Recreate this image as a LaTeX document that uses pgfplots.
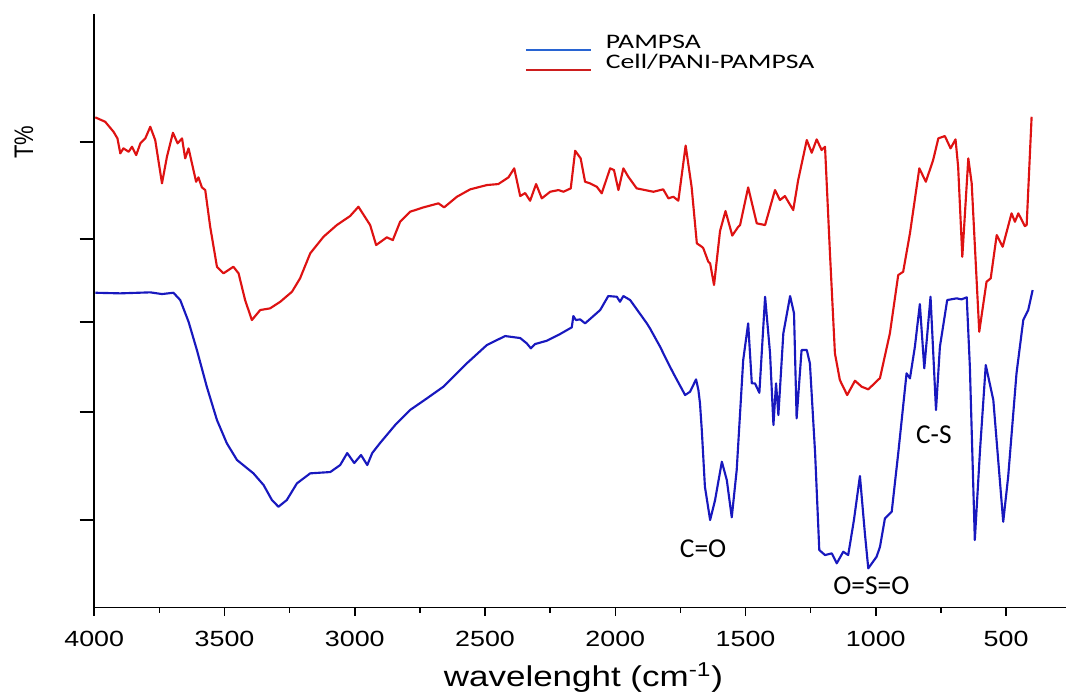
\documentclass[border=0pt]{standalone}
\usepackage{fontspec}
\setmainfont{Liberation Sans}
\newfontfamily\calib{Carlito}
\usepackage{graphicx}
\usepackage{pgfplots}
\pgfplotsset{compat=1.18}
\definecolor{cred}{RGB}{222,18,18}
\definecolor{cblue}{RGB}{24,24,190}
\definecolor{lblue}{RGB}{40,100,210}
\definecolor{lred}{RGB}{205,30,30}
\newcommand{\sx}[1]{\scalebox{1.22}[1]{#1}}
\pgfplotstableread{
wn y
3996 575.7
3958 571.3
3926 561.3
3911 554.7
3900 539.7
3888 544.7
3868 541.3
3855 546.3
3839 538
3823 549.7
3804 554.7
3785 566.3
3766 553
3740 509.7
3721 536.3
3698 560.3
3680 549.7
3663 554.7
3651 534.7
3638 544.7
3625 529.7
3609 511.3
3600 515.7
3587 505.7
3574 503
3555 466.3
3529 426.3
3504 419.7
3466 426.3
3446 419.7
3421 393
3395 373
3363 383
3325 384.7
3286 391.3
3241 401.3
3210 414.7
3171 439.7
3120 456.3
3069 468
3018 477
2986 486.3
2941 468
2918 448
2877 455.7
2854 453
2826 471.3
2788 481.3
2736 485.7
2679 489.7
2657 485.7
2608 496.3
2557 503.7
2493 508
2449 509
2410 515.7
2388 524.7
2365 497
2346 500
2327 492.3
2304 509
2282 494.7
2250 501.3
2218 503
2199 501.3
2171 504.7
2154 542.3
2133 534.7
2116 511.3
2097 509.7
2071 506.3
2052 499.7
2020 524.7
2005 523
1988 503
1969 524.7
1950 516.3
1918 504.7
1886 503
1854 501.3
1816 503.7
1796 494.7
1777 496.3
1758 492.3
1730 547.5
1707 506
1687 449.7
1668 446.3
1662 444.7
1643 431.3
1636 429.7
1621 408
1598 462
1577 482
1551 457.5
1528 466.3
1521 468
1490 505.7
1457 469.7
1425 468
1387 503
1368 493
1349 497
1317 483
1298 513
1265 553
1246 540.3
1227 553.7
1208 543
1195 546.3
1176 439.7
1157 339.7
1138 313
1110 298
1080 312.3
1054 306.3
1029 303.7
984 315
946 359.7
914 418
895 421.3
869 459.7
833 524.7
808 511.3
780 533
760 554.7
735 557
713 544.7
694 553.7
684 526.3
668 436.3
645 534.7
632 509.7
603 361.3
575 411.3
559 414.7
536 458
513 446.3
479 479.7
466 471.3
453 479.7
428 467
421 468
409 536.3
402 576.3
}\redtab
\pgfplotstableread{
wn y
3996 400.3
3900 399.7
3785 400.7
3740 399
3696 400.3
3670 393
3638 371.3
3606 343
3568 306.3
3529 273
3491 249.7
3452 233
3389 219.7
3350 208
3318 193
3293 186.3
3261 193
3222 209.7
3171 219.7
3094 221
3056 228
3029 240
3002 230
2976 238
2952 228
2933 240
2903 250
2845 268
2788 283
2723 294.7
2660 306.3
2570 329.7
2493 348
2423 357
2365 355
2340 349.7
2324 344.7
2308 349
2263 352.3
2212 359
2167 365.7
2161 377
2151 373
2135 373.7
2116 369.7
2058 383
2027 397
1994 396.3
1982 391.3
1969 397
1943 393
1879 369.7
1867 364.7
1828 346.3
1803 333
1777 319.7
1732 298
1713 301.3
1690 313.7
1681 303
1675 290
1668 263
1656 206.3
1636 173
1617 193
1591 231.3
1572 213
1553 175.7
1534 223
1509 333
1490 369.7
1476 309.7
1464 309.7
1447 300.3
1425 396.3
1406 339.7
1393 268
1383 309.7
1374 278
1355 359.7
1329 397
1314 379.7
1304 274.7
1285 343
1265 343
1253 329.7
1233 239.7
1217 143
1195 138
1169 139.7
1150 129.7
1125 141.3
1106 138
1084 173
1061 217
1042 159.7
1029 124.7
997 136.3
984 146.3
965 174.7
939 181.3
914 239.7
882 319.7
869 314.7
850 346.3
831 389
814 324.7
790 396.3
769 283
754 346.3
726 393
690 394.7
671 393.7
651 395.7
639 326.3
620 153
600 243
578 328
549 293
511 171.3
492 216.3
460 319.7
434 373
415 383
398 403
}\bluetab
\begin{document}
\begin{tikzpicture}
\useasboundingbox (0,0) rectangle (799.5pt,519.75pt);
% y ticks (longer) in a helper axis
\begin{axis}[
 at={(70.7pt,64.1pt)}, anchor=south west,
 scale only axis, width=728.8pt, height=445.1pt,
 x dir=reverse, xmin=270, xmax=4000, ymin=85.5, ymax=679,
 axis x line=none, axis y line*=left,
 axis line style={line width=1.2pt, -},
 tick align=outside, major tick length=11pt,
 tick style={line width=1.2pt, black},
 xtick=\empty,
 ytick={173,281,371,454,551}, yticklabels={},
]
\end{axis}
\begin{axis}[
 at={(70.7pt,64.1pt)}, anchor=south west,
 scale only axis, width=728.8pt, height=445.1pt,
 x dir=reverse, xmin=270, xmax=4000, ymin=85.5, ymax=679,
 axis x line*=bottom, axis y line*=left,
 axis line style={line width=1.2pt, -},
 tick align=outside, major tick length=6pt, minor tick length=3.75pt,
 tick style={line width=1.2pt, black},
 ytick=\empty,
 xtick={500,1000,1500,2000,2500,3000,3500,4000},
 xticklabels={\sx{500},\sx{1000},\sx{1500},\sx{2000},\sx{2500},\sx{3000},\sx{3500},\sx{4000}},
 minor xtick={750,1250,1750,2250,2750,3250,3750},
 xticklabel style={font=\fontsize{16.5}{18}\selectfont, anchor=base, inner sep=0pt, yshift=-23.4pt},
 xlabel={\sx{wavelenght (cm\textsuperscript{-1})}},
 xlabel style={font=\fontsize{21.5}{24}\selectfont, at={(axis description cs:0.5,0)}, anchor=base, inner sep=0pt, yshift=-59.4pt, xshift=2.5pt},
 clip=false,
 legend image code/.code={\draw[#1] (0pt,-4.6pt) -- (48.75pt,-4.6pt);},
 legend style={at={(0.4432,0.9663)}, anchor=north west, draw=none, fill=none, inner sep=0pt, outer sep=0pt, row sep=0pt,
   nodes={inner sep=0pt, text height=11pt, text depth=4pt, font=\calib\fontsize{15.5}{18}\selectfont},
   /tikz/every odd column/.append style={column sep=10.5pt}},
 legend cell align=left,
]
\addplot[cred, line width=1.6pt, line join=round, forget plot] table[x=wn,y=y] {\redtab};
\addplot[cblue, line width=1.6pt, line join=round, forget plot] table[x=wn,y=y] {\bluetab};
\addlegendimage{lblue, line width=1.5pt}
\addlegendentry{\scalebox{1.34}[1]{PAMPSA}}
\addlegendimage{lred, line width=1.5pt}
\addlegendentry{\scalebox{1.34}[1]{Cell/PANI-PAMPSA}}
\node[font=\calib\fontsize{20.5}{24}\selectfont, inner sep=0pt] at (axis cs:1663,144) {C=O};
\node[font=\calib\fontsize{20.5}{24}\selectfont, inner sep=0pt] at (axis cs:1017,107) {O=S=O};
\node[font=\calib\fontsize{20.5}{24}\selectfont, inner sep=0pt] at (axis cs:777,258) {C-S};
\node[font=\fontsize{16.5}{18}\selectfont, inner sep=0pt] at (axis cs:4000,551) [xshift=-52.7pt] {\scalebox{1.22}[1]{\rotatebox{90}{T\%}}};
\end{axis}
\end{tikzpicture}
\end{document}
